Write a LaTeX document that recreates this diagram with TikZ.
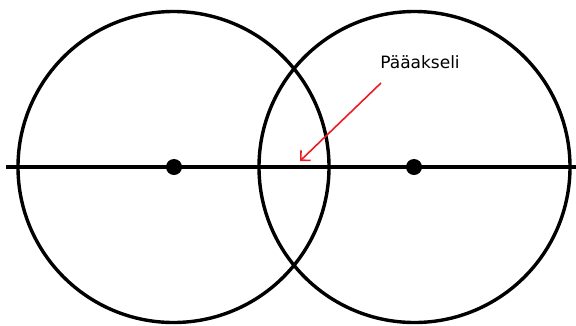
\documentclass[tikz,border=0pt]{standalone}
\usepackage{fontspec}
\newfontfamily\labelfont{DejaVu Sans}
\usetikzlibrary{arrows.meta}
\definecolor{paintred}{RGB}{237,28,36}

\begin{document}
\begin{tikzpicture}[
  x=1pt, y=-1pt,
  lensring/.style={circle, draw=black, line width=3.4pt, minimum size=311pt, inner sep=0pt},
  centerdot/.style={circle, fill=black, minimum size=16pt, inner sep=0pt},
  axisline/.style={line width=3.4pt, black},
  pointer/.style={-{Straight Barb[length=7pt, width=14pt]}, paintred, line width=1.6pt},
  callout/.style={font=\labelfont\fontsize{17}{20}\selectfont, inner sep=0pt},
]
\useasboundingbox (0,0) rectangle (576,325);

% Lenses
\node[lensring] (lensL) at (173.5,167) {};
\node[lensring] (lensR) at (414.5,167) {};

% Principal axis
\coordinate (axisW) at (6,167);
\coordinate (axisE) at (577,167);
\draw[axisline] (axisW) -- (axisE);

% Centres
\node[centerdot] (dotL) at (174,167) {};
\node[centerdot] (dotR) at (414,167) {};

% Label
\node[callout] (axislabel) at (420,62) {Pääakseli};
\coordinate (tail) at (381,83);
\coordinate (tip) at (300,161);
\draw[pointer] (tail) -- (tip);
\end{tikzpicture}
\end{document}
